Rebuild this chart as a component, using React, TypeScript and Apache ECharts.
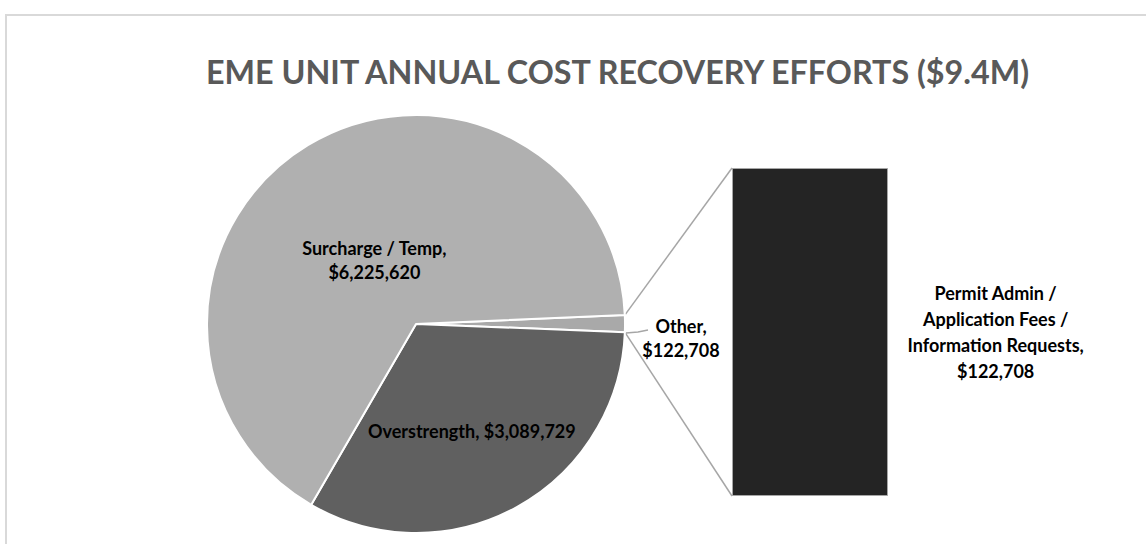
import React, { useEffect, useRef } from "react";
import * as echarts from "echarts";

const pieCategories = ["Other", "Overstrength", "Surcharge / Temp"];
const pieValues = [122708, 3089729, 6225620];
const barCategories = ["Permit Admin / Application Fees / Information Requests"];
const barValues = [122708];
const titleText = "EME UNIT ANNUAL COST RECOVERY EFFORTS ($9.4M)";

const CX = 416;
const CY = 324;
const R = 209;
const GRID = { left: 732, top: 168, width: 156, height: 328 };
const FONT = "Lato, 'Open Sans', sans-serif";
const LABEL_SIZE = 18;

const money = (v: number) => "$" + v.toLocaleString("en-US");

export default function App() {
  const ref = useRef<HTMLDivElement>(null);
  useEffect(() => {
    if (!ref.current) return;
    const chart = echarts.init(ref.current, undefined, { renderer: "svg" });
    const total = pieValues.reduce((a, b) => a + b, 0);
    const otherDeg = (pieValues[0] / total) * 360;
    const startAngle = otherDeg / 2 + 0.1;
    const a1 = (startAngle * Math.PI) / 180;
    const a2 = ((startAngle - otherDeg) * Math.PI) / 180;
    const p1 = [CX + R * Math.cos(a1), CY - R * Math.sin(a1)];
    const p2 = [CX + R * Math.cos(a2), CY - R * Math.sin(a2)];
    const colors = ["#a9a9a9", "#606060", "#b0b0b0"];

    chart.setOption({
      animation: false,
      backgroundColor: "#ffffff",
      title: {
        text: titleText,
        left: 201,
        top: 50,
        textStyle: { fontFamily: FONT, fontSize: 32.3, fontWeight: "bold", color: "#595959" },
      },
      grid: { ...GRID, containLabel: false },
      xAxis: { type: "category", data: barCategories, show: false },
      yAxis: { type: "value", min: 0, max: barValues[0], show: false },
      graphic: [
        {
          type: "rect",
          shape: { x: 6, y: 15, width: 1300, height: 700 },
          style: { fill: "none", stroke: "#d9d9d9", lineWidth: 2 },
          silent: true,
        },
        {
          type: "line",
          shape: { x1: p1[0], y1: p1[1], x2: GRID.left, y2: GRID.top },
          style: { stroke: "#a6a6a6", lineWidth: 1.5 },
          z: 1,
        },
        {
          type: "line",
          shape: { x1: p2[0], y1: p2[1], x2: GRID.left, y2: GRID.top + GRID.height },
          style: { stroke: "#a6a6a6", lineWidth: 1.5 },
          z: 1,
        },
      ],
      series: [
        {
          type: "pie",
          center: [CX, CY],
          radius: [0, R],
          startAngle,
          clockwise: true,
          avoidLabelOverlap: false,
          data: pieCategories.map((name, i) => ({
            name,
            value: pieValues[i],
            itemStyle: { color: colors[i] },
            label: i === 0 ? { position: "outside" } : { position: "inside" },
            labelLine:
              i === 0
                ? { show: true, length: 10, length2: 12, lineStyle: { color: "#a6a6a6", width: 1.5 } }
                : { show: false },
          })),
          itemStyle: { borderColor: "#ffffff", borderWidth: 2 },
          label: {
            fontFamily: FONT,
            fontSize: LABEL_SIZE,
            fontWeight: "bold",
            color: "#000000",
            lineHeight: 24,
            align: "center",
            formatter: (p: any) =>
              p.name === "Overstrength" ? `${p.name}, ${money(p.value)}` : `${p.name},\n${money(p.value)}`,
          },
          labelLayout: (p: any) => {
            if (p.dataIndex === 2) return { dx: 14, dy: 28 };
            if (p.dataIndex === 1) return { dx: 4, dy: 13 };
            return {
              x: CX + R + 56,
              y: CY + 14,
              align: "center",
              verticalAlign: "middle",
              labelLinePoints: [
                [CX + R + 1, CY + 9],
                [CX + R + 13, CY + 8],
                [CX + R + 23, CY + 6],
              ],
            };
          },
        },
        {
          type: "bar",
          data: barValues,
          barWidth: "100%",
          itemStyle: { color: "#242424", borderColor: "#a6a6a6", borderWidth: 1 },
          label: {
            show: true,
            position: ["169%", "50%"],
            align: "center",
            verticalAlign: "middle",
            fontFamily: FONT,
            fontSize: LABEL_SIZE,
            fontWeight: "bold",
            color: "#000000",
            lineHeight: 26,
            formatter: () => "Permit Admin /\nApplication Fees /\nInformation Requests,\n" + money(barValues[0]),
          },
        },
      ],
    });
    return () => chart.dispose();
  }, []);
  return <div ref={ref} style={{ position: "fixed", left: 0, top: 0, width: 1146, height: 544 }} />;
}
